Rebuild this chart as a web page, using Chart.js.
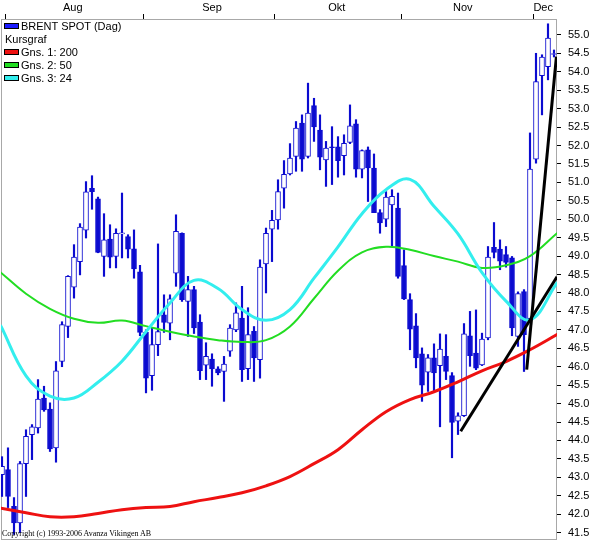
<!DOCTYPE html>
<html>
<head>
<meta charset="utf-8">
<script src="https://cdn.jsdelivr.net/npm/chart.js@4.4.1/dist/chart.umd.min.js"></script>
<style>
  html, body { margin: 0; padding: 0; background: #fff; }
  #wrap { position: relative; width: 593px; height: 541px; }
  #legend { position: absolute; left: 4px; top: 19px; font: 11px "Liberation Sans", Arial, sans-serif; color: #000; }
  .row { height: 13px; display: flex; align-items: center; white-space: nowrap; }
  .box { width: 13px; height: 4px; border: 1px solid #000; margin-right: 2px; }
  #copy { position: absolute; left: 2px; top: 529px; font: 8px "Liberation Serif", "Times New Roman", serif; color: #000; white-space: nowrap; }
</style>
</head>
<body>
<div id="wrap">
  <canvas id="brentChart" width="593" height="541"></canvas>
  <div id="legend">
    <div class="row"><span class="box" style="background:#1a1aff"></span>BRENT SPOT (Dag)</div>
    <div class="row" style="padding-left:1px">Kursgraf</div>
    <div class="row"><span class="box" style="background:#ee1111"></span>Gns. 1: 200</div>
    <div class="row"><span class="box" style="background:#22dd22"></span>Gns. 2: 50</div>
    <div class="row"><span class="box" style="background:#33eeee"></span>Gns. 3: 24</div>
  </div>
  <div id="copy">Copyright (c) 1993-2006 Avanza Vikingen AB</div>
</div>
<script>
// Daily OHLC, trading day index 0 = 31 Jul 2006
const openPrices = [
  43.07, 43.21, 42.21, 41.76, 43.37, 44.16, 44.34, 45.15, 44.85, 43.80,
  46.14, 47.09, 48.16, 48.85, 49.70, 50.84, 50.55, 48.99, 49.46, 48.99,
  49.60, 49.53, 49.20, 48.57, 46.93, 45.76, 46.60, 47.41, 47.18, 48.54,
  49.62, 47.77, 48.09, 47.21, 46.04, 46.21, 45.94, 45.87, 46.42, 47.00,
  47.32, 45.95, 46.96, 46.19, 48.79, 49.73, 49.98, 50.84, 51.23, 51.70,
  52.61, 51.70, 53.08, 52.42, 51.61, 51.96, 51.96, 51.72, 52.08, 52.59,
  51.36, 51.88, 51.39, 50.18, 50.00, 50.39, 50.30, 48.74, 47.82, 47.11,
  46.35, 45.85, 46.24, 46.03, 46.28, 45.76, 44.52, 44.67, 46.84, 46.37,
  46.05, 46.78, 49.24, 49.19, 49.04, 48.95, 46.82, 48.04, 47.30, 51.63,
  53.89, 54.14, 54.47
];
const highPrices = [
  43.56, 43.80, 42.45, 43.43, 44.29, 44.43, 45.65, 45.47, 45.02, 46.14,
  47.22, 48.47, 49.31, 49.88, 51.02, 51.18, 50.60, 50.15, 49.85, 49.74,
  50.71, 49.58, 49.71, 48.75, 47.00, 47.06, 49.33, 47.95, 47.95, 50.12,
  49.63, 48.45, 48.18, 47.41, 46.65, 46.35, 46.00, 46.28, 47.14, 47.73,
  48.18, 47.60, 47.09, 48.90, 49.76, 50.24, 51.07, 51.59, 52.05, 52.65,
  52.83, 53.69, 53.28, 52.83, 52.11, 52.51, 52.24, 52.29, 53.10, 52.70,
  51.88, 51.96, 51.77, 50.26, 50.75, 50.80, 50.71, 49.17, 47.98, 47.44,
  46.51, 46.33, 46.62, 46.89, 46.87, 45.84, 44.75, 47.17, 47.50, 47.54,
  46.91, 49.26, 49.91, 49.44, 49.26, 48.99, 48.03, 48.09, 52.34, 54.50,
  54.46, 55.30, 54.59
];
const lowPrices = [
  42.48, 42.18, 41.45, 41.50, 42.48, 43.48, 44.20, 44.79, 43.70, 43.41,
  46.00, 46.79, 47.86, 48.49, 49.49, 50.27, 49.09, 48.45, 48.68, 48.68,
  48.95, 48.95, 48.40, 46.84, 45.29, 45.36, 46.30, 46.93, 46.73, 48.18,
  47.77, 46.82, 46.90, 45.65, 45.65, 45.47, 45.78, 45.06, 46.28, 46.95,
  45.60, 45.65, 45.60, 45.69, 48.00, 48.85, 49.73, 50.30, 51.20, 51.30,
  51.30, 51.66, 52.11, 51.34, 50.89, 50.94, 51.14, 51.20, 52.05, 51.14,
  51.12, 50.48, 50.18, 49.62, 49.80, 49.28, 48.40, 47.82, 46.46, 45.97,
  45.06, 45.33, 45.33, 44.37, 45.65, 43.53, 44.16, 44.65, 46.01, 45.92,
  46.03, 46.73, 48.95, 48.63, 48.70, 46.84, 46.55, 45.87, 47.27, 51.52,
  52.83, 53.78, 54.40
];
const closePrices = [
  43.30, 42.48, 41.76, 43.37, 44.11, 44.37, 45.12, 44.83, 43.77, 45.89,
  47.14, 48.45, 48.97, 49.79, 50.74, 50.75, 49.10, 49.44, 48.97, 49.62,
  49.63, 49.19, 48.65, 46.93, 45.69, 46.60, 46.95, 47.20, 47.84, 49.67,
  47.82, 48.09, 47.05, 45.89, 46.28, 45.94, 45.83, 46.07, 47.05, 47.46,
  45.92, 46.87, 46.24, 48.70, 49.62, 49.97, 50.75, 51.22, 51.66, 52.47,
  51.63, 52.88, 52.50, 51.68, 51.93, 51.94, 51.59, 52.06, 52.53, 51.36,
  51.86, 51.39, 50.18, 49.90, 50.60, 50.62, 48.45, 47.84, 47.02, 46.24,
  45.50, 46.24, 45.83, 46.48, 45.87, 44.49, 44.67, 46.89, 46.30, 45.96,
  46.75, 48.97, 49.10, 48.86, 48.83, 47.05, 47.98, 46.87, 51.36, 53.73,
  54.40, 54.91, 54.49
];

// Moving averages, read at these day positions
const maDays = [-0.17, 4, 8, 12, 16, 20, 24, 28, 32, 36, 40, 44, 48, 52, 56, 60, 64, 68, 72, 76, 80, 84, 88, 92.5];
const ma200 = [42.16, 42.04, 41.93, 41.93, 42.02, 42.12, 42.18, 42.21, 42.34, 42.45, 42.58, 42.77, 43.02, 43.37, 43.75, 44.29, 44.78, 45.11, 45.32, 45.59, 45.89, 46.14, 46.46, 46.87];
const ma50 = [48.55, 47.98, 47.57, 47.30, 47.19, 47.25, 47.10, 46.95, 46.82, 46.72, 46.67, 46.72, 47.09, 47.85, 48.60, 49.10, 49.25, 49.17, 49.00, 48.85, 48.68, 48.75, 49.00, 49.62];
const ma24 = [47.10, 45.75, 45.20, 45.15, 45.58, 46.15, 46.95, 47.73, 48.34, 48.12, 47.55, 47.26, 47.55, 48.40, 49.25, 50.15, 50.80, 51.08, 50.35, 49.60, 48.55, 47.78, 47.27, 48.27];

// Trend lines drawn on the chart
const trend1Days = [76.45, 92.5];
const trend1Vals = [44.25, 48.44];
const trend2Days = [87.45, 92.4];
const trend2Vals = [45.92, 54.41];

// Axis ticks
const monthLabels = ['Aug', 'Sep', 'Okt', 'Nov', 'Dec'];
const monthLabelPos = [11.8, 35, 55.8, 76.8, 90.2];
const monthStarts = [0.5, 23.5, 45.5, 66.5, 88.5];
const priceTicks = [41.5, 42.0, 42.5, 43.0, 43.5, 44.0, 44.5, 45.0, 45.5, 46.0, 46.5, 47.0, 47.5, 48.0,
  48.5, 49.0, 49.5, 50.0, 50.5, 51.0, 51.5, 52.0, 52.5, 53.0, 53.5, 54.0, 54.5, 55.0];

const BLUE = '#0b0bd0';
const FONT = { family: '"Liberation Sans", Arial, sans-serif', size: 11 };

const wickData = openPrices.map((o, i) => ({ x: i, y: [lowPrices[i], highPrices[i]] }));
const bodyData = openPrices.map((o, i) => ({ x: i, y: [o, closePrices[i]] }));
const toPoints = (days, vals) => days.map((d, i) => ({ x: d, y: vals[i] }));

// Thin grey frame round the plot area
const frame = {
  id: 'frame',
  beforeDatasetsDraw(chart) {
    const a = chart.chartArea;
    const c = chart.ctx;
    c.save();
    c.strokeStyle = '#a8a8a8';
    c.lineWidth = 1;
    c.strokeRect(a.left + 0.5, a.top + 0.5, a.right - a.left - 1, a.bottom - a.top - 1);
    c.restore();
  }
};

// no extra room for the outer tick labels
const noPad = s => { s.paddingTop = 0; s.paddingBottom = 0; s.paddingLeft = 0; s.paddingRight = 0; };

const maLine = (label, vals, color, width, order) => ({
  type: 'line', label, data: toPoints(maDays, vals),
  borderColor: color, borderWidth: width, pointRadius: 0, tension: 0.4,
  borderCapStyle: 'round', order
});

new Chart(document.getElementById('brentChart'), {
  type: 'bar',
  data: {
    datasets: [
      { label: 'wick', data: wickData, backgroundColor: BLUE, barThickness: 1.5, grouped: false, order: 6 },
      {
        label: 'BRENT SPOT (Dag)', data: bodyData, grouped: false, order: 5,
        barThickness: 5, borderWidth: 1, borderColor: BLUE, borderSkipped: false,
        backgroundColor: ctx => closePrices[ctx.dataIndex] < openPrices[ctx.dataIndex] ? BLUE : '#ffffff'
      },
      maLine('Gns. 1: 200', ma200, '#ee1111', 3, 4),
      maLine('Gns. 2: 50', ma50, '#22dd22', 2, 3),
      maLine('Gns. 3: 24', ma24, '#33eeee', 3, 2),
      { type: 'line', label: 'trend1', data: toPoints(trend1Days, trend1Vals), borderColor: '#000', borderWidth: 3, pointRadius: 0, order: 1 },
      { type: 'line', label: 'trend2', data: toPoints(trend2Days, trend2Vals), borderColor: '#000', borderWidth: 3, pointRadius: 0, order: 0 }
    ]
  },
  options: {
    responsive: false,
    animation: false,
    layout: { padding: { left: 1, top: 0, right: 0, bottom: 1 } },
    plugins: { legend: { display: false }, tooltip: { enabled: false } },
    scales: {
      x: {
        type: 'linear', position: 'top', min: -1 / 6, max: 92.5, offset: false,
        afterFit: s => { s.height = 19; noPad(s); },
        afterBuildTicks: s => {
          s.ticks = monthStarts.concat(monthLabelPos).sort((a, b) => a - b).map(v => ({ value: v }));
        },
        ticks: {
          autoSkip: false, maxRotation: 0, padding: -1, color: '#000', font: FONT,
          callback: v => { const k = monthLabelPos.indexOf(v); return k >= 0 ? monthLabels[k] : ''; }
        },
        grid: {
          offset: false, drawOnChartArea: false, tickLength: 5, lineWidth: 1,
          color: ctx => (ctx.tick && monthLabelPos.includes(ctx.tick.value)) ? 'rgba(0,0,0,0)' : '#000'
        },
        border: { display: false }
      },
      y: {
        position: 'right', min: 41.3, max: 55.43,
        afterFit: s => { s.width = 36; noPad(s); },
        afterBuildTicks: s => { s.ticks = priceTicks.map(v => ({ value: v })); },
        ticks: { padding: 7, color: '#000', font: FONT, callback: v => v.toFixed(1) },
        grid: { drawOnChartArea: false, tickLength: 4, color: '#000' },
        border: { display: false }
      }
    }
  },
  plugins: [frame]
});
</script>
</body>
</html>
